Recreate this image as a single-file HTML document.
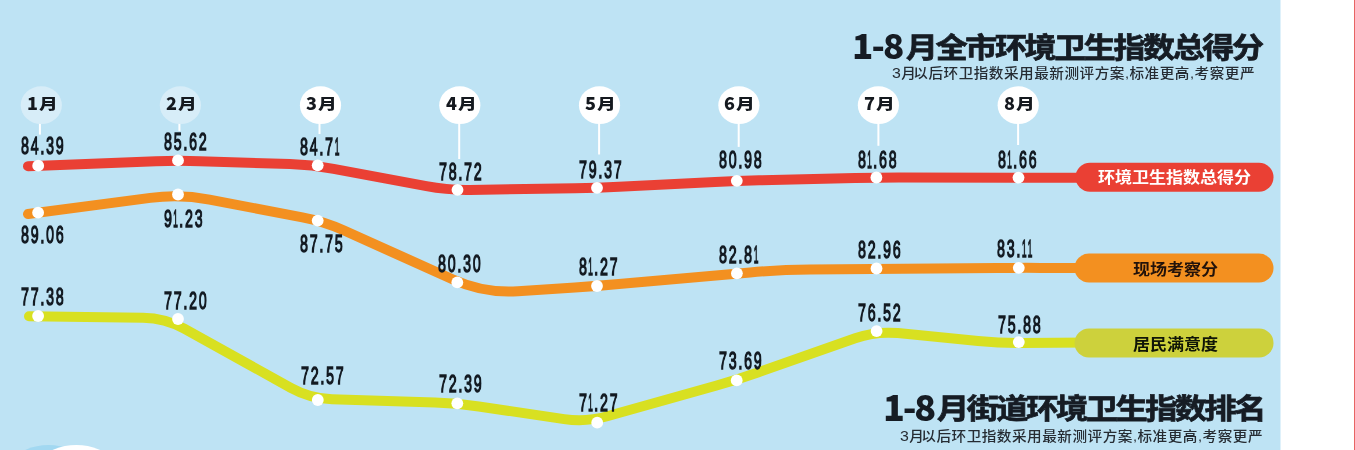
<!DOCTYPE html><html><head><meta charset="utf-8"><style>
html,body{margin:0;padding:0;background:#fff}
.panel{position:absolute;left:0;top:0;width:1280px;height:450px;background:#bee3f4}
.pe{position:absolute;left:1280px;top:0;width:1px;height:450px;background:#dff1fa}
.rl{position:absolute;left:1354px;top:0;width:1px;height:450px;background:#e86464}
.t{position:absolute;white-space:nowrap;line-height:1;will-change:transform}
.n{font-family:"Liberation Sans",sans-serif;font-weight:400;font-size:24.5px;letter-spacing:3.1px;color:#131a22;-webkit-text-stroke:1.4px #131a22;transform:scaleX(0.58);transform-origin:0 0}
.m{font-family:"Noto Sans CJK SC","Liberation Sans",sans-serif;font-weight:900;font-size:18px;color:#15191f}
.m b{display:inline-block;font-weight:900;font-size:17.5px;transform:scale(1.07,0.86);transform-origin:0 60%;margin-left:1px}
.h1{font-family:"Noto Sans CJK SC","Liberation Sans",sans-serif;font-weight:900;font-size:35px;letter-spacing:-1.9px;color:#161c24}
.h1b{font-size:36px;letter-spacing:-2.2px}
.cj{font-family:"Noto Sans CJK SC","Liberation Sans",sans-serif;font-weight:700;font-size:28.5px;letter-spacing:-2.04px;color:#161c24;-webkit-text-stroke:0.75px #161c24;transform:scaleX(1.12);transform-origin:0 0}
.cjb{font-size:28.8px;letter-spacing:-2.25px}
.h2{font-family:"Liberation Sans","Noto Sans CJK SC",sans-serif;font-weight:500;font-size:13.6px;letter-spacing:0.47px;color:#262c33;transform:scaleX(1.075);transform-origin:0 0}
.h2 u{text-decoration:none;font-size:14.8px}
.h2 em{font-style:normal;margin-left:-3px}
.n s{text-decoration:none;display:inline-block;transform:scaleX(0.6);transform-origin:40% 0;margin:0 -3.8px 0 -3.4px}
.p{font-family:"Liberation Sans","Noto Sans CJK SC",sans-serif;font-weight:700;font-size:15.5px;letter-spacing:-0.05px;transform:scaleX(1.1);transform-origin:0 0}

body{width:1355px;height:450px;overflow:hidden;position:relative}</style></head><body>
<div class="panel"></div><div class="pe"></div><div class="rl"></div>
<svg width="1355" height="450" viewBox="0 0 1355 450" style="position:absolute;left:0;top:0"><circle cx="48.5" cy="504.6" r="59.5" fill="#a2d8f1"/><circle cx="76.3" cy="504" r="59" fill="#ffffff"/><path d="M28.0,166.2 L156.0,161.3 Q178.0,160.5 200.0,161.2 L290.0,164.1 Q312.0,164.8 333.6,168.9 L426.4,186.2 Q448.0,190.3 470.0,189.9 L575.0,188.2 Q597.0,187.8 619.0,186.7 L715.0,181.9 Q737.0,180.8 759.0,180.3 L855.0,178.1 Q877.0,177.6 899.0,177.6 L1090.0,177.7" fill="none" stroke="#ea4034" stroke-width="10" stroke-linecap="round" stroke-linejoin="round"/><path d="M28.0,214.0 L150.3,197.9 Q180.0,194.0 209.5,199.6 L302.4,217.4 Q324.0,221.5 344.1,230.5 L453.0,279.5 Q484.0,293.5 517.9,291.2 L575.0,287.5 Q597.0,286.0 618.9,284.0 L750.1,272.4 Q780.0,269.7 810.0,269.5 L996.8,268.0 Q1018.8,267.8 1040.8,267.9 L1090.0,268.0" fill="none" stroke="#f39020" stroke-width="10" stroke-linecap="round" stroke-linejoin="round"/><path d="M29.0,316.3 L143.0,317.7 Q165.0,318.0 184.2,328.7 L290.8,387.8 Q310.0,398.5 332.0,399.2 L435.0,402.6 Q457.0,403.3 478.8,406.5 L564.2,419.1 Q586.0,422.3 607.2,416.3 L715.8,385.8 Q737.0,379.8 757.8,372.5 L855.2,338.3 Q876.0,331.0 897.9,333.1 L978.1,340.9 Q1000.0,343.0 1022.0,342.9 L1090.0,342.5" fill="none" stroke="#d8e021" stroke-width="10" stroke-linecap="round" stroke-linejoin="round"/><rect x="1075.5" y="162.8" width="198" height="29" rx="14.5" fill="#ea4034"/><rect x="1074.5" y="253.6" width="199" height="29" rx="14.5" fill="#f39020"/><rect x="1074.5" y="328.4" width="199" height="29" rx="14.5" fill="#cdd13c"/><circle cx="38.2" cy="165.7" r="5.9" fill="#fff"/><circle cx="178" cy="160.4" r="5.9" fill="#fff"/><circle cx="317.7" cy="165.3" r="5.9" fill="#fff"/><circle cx="457.5" cy="189.8" r="5.9" fill="#fff"/><circle cx="597" cy="187.8" r="5.9" fill="#fff"/><circle cx="736.8" cy="180.8" r="5.9" fill="#fff"/><circle cx="876.4" cy="177.5" r="5.9" fill="#fff"/><circle cx="1018.5" cy="177.6" r="5.9" fill="#fff"/><circle cx="38.1" cy="212.7" r="5.9" fill="#fff"/><circle cx="178" cy="194.5" r="5.9" fill="#fff"/><circle cx="317.7" cy="220.6" r="5.9" fill="#fff"/><circle cx="457.3" cy="282.4" r="5.9" fill="#fff"/><circle cx="597" cy="286" r="5.9" fill="#fff"/><circle cx="736.9" cy="273.3" r="5.9" fill="#fff"/><circle cx="876.5" cy="268.5" r="5.9" fill="#fff"/><circle cx="1018.8" cy="267.8" r="5.9" fill="#fff"/><circle cx="38.1" cy="316" r="5.9" fill="#fff"/><circle cx="178" cy="319" r="5.9" fill="#fff"/><circle cx="317.8" cy="400" r="5.9" fill="#fff"/><circle cx="457.3" cy="403.3" r="5.9" fill="#fff"/><circle cx="597.2" cy="422.7" r="5.9" fill="#fff"/><circle cx="736.7" cy="380.4" r="5.9" fill="#fff"/><circle cx="876.6" cy="331.1" r="5.9" fill="#fff"/><circle cx="1018.8" cy="342.1" r="5.9" fill="#fff"/><line x1="39.9" y1="120" x2="39.9" y2="134.6" stroke="#fff" stroke-width="2"/><ellipse cx="41.3" cy="105.2" rx="20.6" ry="18.9" fill="#d7edf8"/><line x1="179.4" y1="120" x2="179.4" y2="131" stroke="#fff" stroke-width="2"/><ellipse cx="180.4" cy="105.2" rx="20.6" ry="18.9" fill="#d7edf8"/><line x1="319.5" y1="120" x2="319.5" y2="134" stroke="#fff" stroke-width="2"/><ellipse cx="320.5" cy="105.2" rx="20.6" ry="18.9" fill="#ffffff"/><line x1="459.2" y1="120" x2="459.2" y2="159" stroke="#fff" stroke-width="2"/><ellipse cx="459.8" cy="105.2" rx="20.6" ry="18.9" fill="#ffffff"/><line x1="599.1" y1="120" x2="599.1" y2="154.5" stroke="#fff" stroke-width="2"/><ellipse cx="599.5" cy="105.2" rx="20.6" ry="18.9" fill="#ffffff"/><line x1="738.7" y1="120" x2="738.7" y2="146.9" stroke="#fff" stroke-width="2"/><ellipse cx="738.9" cy="105.2" rx="20.6" ry="18.9" fill="#ffffff"/><line x1="878.4" y1="120" x2="878.4" y2="145.8" stroke="#fff" stroke-width="2"/><ellipse cx="878.4" cy="105.2" rx="20.6" ry="18.9" fill="#ffffff"/><line x1="1018.1" y1="120" x2="1018.1" y2="145" stroke="#fff" stroke-width="2"/><ellipse cx="1018.2" cy="105.2" rx="20.6" ry="18.9" fill="#ffffff"/></svg>
<div class="t m" style="left:26.8px;top:93.3px;">1<b>月</b></div>
<div class="t m" style="left:166.1px;top:93.3px;">2<b>月</b></div>
<div class="t m" style="left:305.6px;top:93.3px;">3<b>月</b></div>
<div class="t m" style="left:446.0px;top:93.3px;">4<b>月</b></div>
<div class="t m" style="left:584.9px;top:93.3px;">5<b>月</b></div>
<div class="t m" style="left:724.3px;top:93.3px;">6<b>月</b></div>
<div class="t m" style="left:863.7px;top:93.3px;">7<b>月</b></div>
<div class="t m" style="left:1003.7px;top:93.3px;">8<b>月</b></div>
<div class="t n" style="left:20.6px;top:134.4px;">84.39</div>
<div class="t n" style="left:163.7px;top:130.0px;">85.62</div>
<div class="t n" style="left:300.3px;top:134.6px;">84.7<s>1</s></div>
<div class="t n" style="left:438.5px;top:159.7px;">78.72</div>
<div class="t n" style="left:579.4px;top:157.6px;">79.37</div>
<div class="t n" style="left:718.7px;top:148.2px;">80.98</div>
<div class="t n" style="left:857.7px;top:147.7px;">8<s>1</s>.68</div>
<div class="t n" style="left:997.7px;top:147.7px;">8<s>1</s>.66</div>
<div class="t n" style="left:20.7px;top:222.6px;">89.06</div>
<div class="t n" style="left:163.7px;top:206.6px;">9<s>1</s>.23</div>
<div class="t n" style="left:300.3px;top:232.0px;">87.75</div>
<div class="t n" style="left:438.4px;top:252.0px;">80.30</div>
<div class="t n" style="left:578.8px;top:255.0px;">8<s>1</s>.27</div>
<div class="t n" style="left:718.8px;top:243.1px;">82.8<s>1</s></div>
<div class="t n" style="left:857.5px;top:237.8px;">82.96</div>
<div class="t n" style="left:997.0px;top:237.4px;">83.<s>1</s><s>1</s></div>
<div class="t n" style="left:21.0px;top:285.1px;">77.38</div>
<div class="t n" style="left:164.4px;top:289.0px;">77.20</div>
<div class="t n" style="left:300.8px;top:364.2px;">72.57</div>
<div class="t n" style="left:438.6px;top:372.4px;">72.39</div>
<div class="t n" style="left:578.6px;top:390.9px;">7<s>1</s>.27</div>
<div class="t n" style="left:719.3px;top:349.1px;">73.69</div>
<div class="t n" style="left:858.1px;top:301.4px;">76.52</div>
<div class="t n" style="left:997.8px;top:313.0px;">75.88</div>
<div class="t h1" style="left:852.3px;top:26.2px;">1-8</div>
<div class="t cj" style="left:906.4px;top:31.8px;">月全市环境卫生指数总得分</div>
<div class="t h2" style="left:891.6px;top:66.4px;"><u>3</u>月<em>以</em>后环卫指数采用最新测评方案,标准更高,考察更严</div>
<div class="t h1 h1b" style="left:882.5px;top:387.3px;">1-8</div>
<div class="t cj cjb" style="left:937.3px;top:393.4px;">月街道环境卫生指数排名</div>
<div class="t h2" style="left:899.8px;top:428.6px;"><u>3</u>月<em>以</em>后环卫指数采用最新测评方案,标准更高,考察更严</div>
<div class="t p" style="left:1097.7px;top:170.4px;color:#fff">环境卫生指数总得分</div>
<div class="t p" style="left:1132.7px;top:261.5px;color:#22120a">现场考察分</div>
<div class="t p" style="left:1132.7px;top:336.6px;color:#101507">居民满意度</div>
</body></html>
